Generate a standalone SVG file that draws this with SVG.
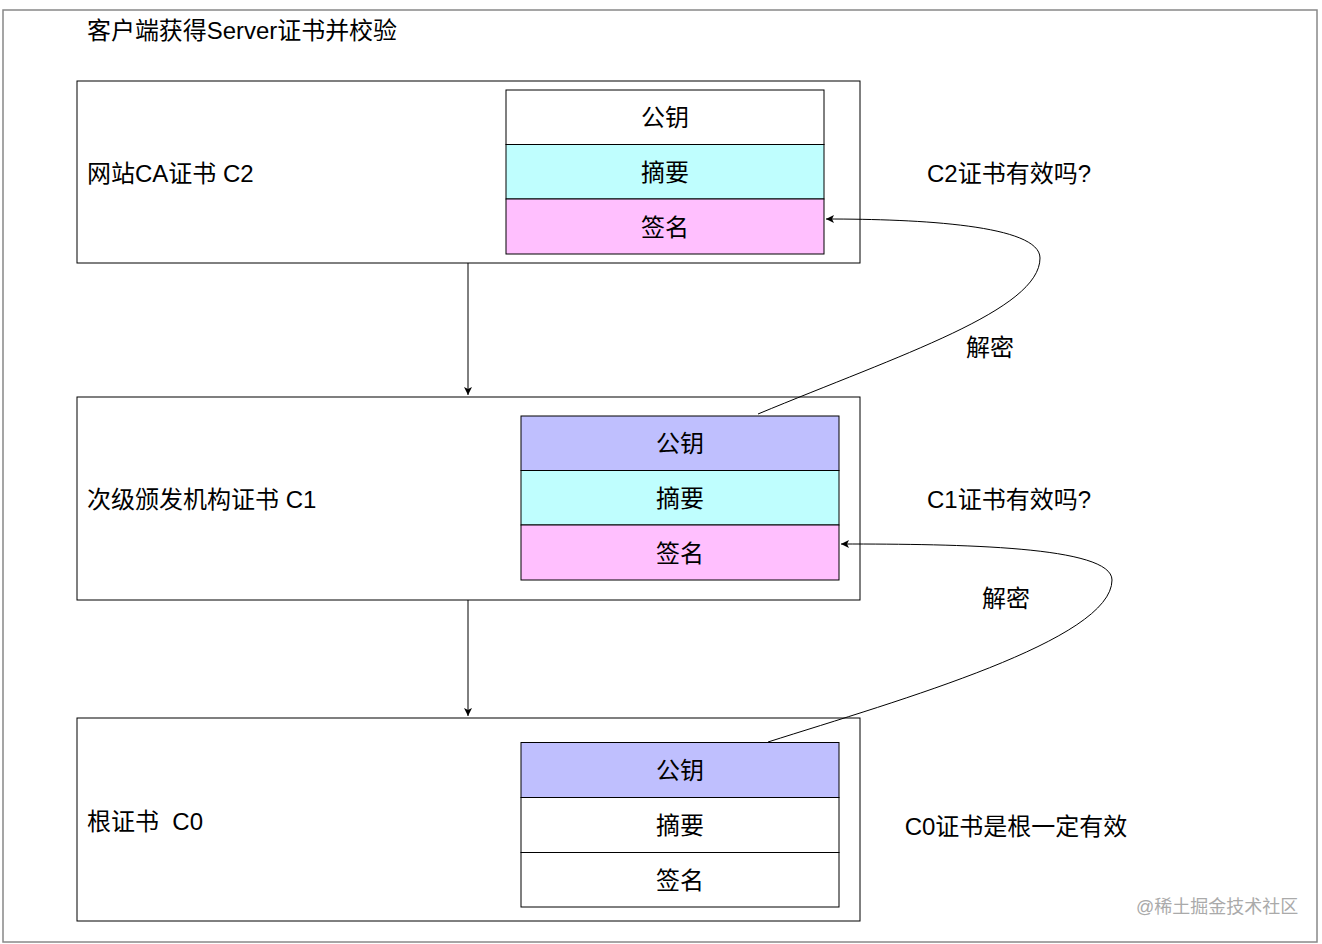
<svg xmlns="http://www.w3.org/2000/svg" width="1322" height="944" viewBox="0 0 1322 944">
<defs>
<style>
text{font-family:"Liberation Sans","Noto Sans CJK SC",sans-serif;fill:#000;font-size:24px;dominant-baseline:central}
.c{text-anchor:middle}
.box{fill:#fff;stroke:#000;stroke-width:1}
.cell{stroke:#000;stroke-width:1}
.w{fill:#fff}.cy{fill:#bffefe}.pk{fill:#ffbffe}.lv{fill:#bfbffe}
.edge{fill:none;stroke:#000;stroke-width:1}
</style>
<marker id="ah" viewBox="0 0 10 10" refX="10" refY="5" markerWidth="8" markerHeight="8" markerUnits="userSpaceOnUse" orient="auto">
<path d="M0,0 L10,5 L0,10 L2.5,5 Z" fill="#000"/>
</marker>
</defs>
<rect x="0" y="0" width="1322" height="944" fill="#fff"/>
<rect x="3" y="10" width="1314" height="932" fill="none" stroke="#888" stroke-width="1.5"/>
<text x="87" y="30" textLength="310" lengthAdjust="spacingAndGlyphs">客户端获得Server证书并校验</text>

<g id="c2">
<rect class="box" x="77" y="81" width="783" height="182"/>
<text x="87" y="173">网站CA证书 C2</text>
<rect class="cell w" x="506" y="90" width="318" height="54.5"/>
<rect class="cell cy" x="506" y="144.5" width="318" height="54.5"/>
<rect class="cell pk" x="506" y="199" width="318" height="55"/>
<text class="c" x="665" y="117">公钥</text>
<text class="c" x="665" y="172">摘要</text>
<text class="c" x="665" y="227">签名</text>
</g>

<g id="c1">
<rect class="box" x="77" y="397" width="783" height="203"/>
<text x="87" y="499">次级颁发机构证书 C1</text>
<rect class="cell lv" x="521" y="416" width="318" height="54.5"/>
<rect class="cell cy" x="521" y="470.5" width="318" height="54.5"/>
<rect class="cell pk" x="521" y="525" width="318" height="55"/>
<text class="c" x="680" y="443">公钥</text>
<text class="c" x="680" y="498">摘要</text>
<text class="c" x="680" y="553">签名</text>
</g>

<g id="c0">
<rect class="box" x="77" y="718" width="783" height="203"/>
<text x="87" y="821" xml:space="preserve">根证书  C0</text>
<rect class="cell lv" x="521" y="742.5" width="318" height="55"/>
<rect class="cell w" x="521" y="797.5" width="318" height="55"/>
<rect class="cell w" x="521" y="852.5" width="318" height="54.5"/>
<text class="c" x="680" y="770">公钥</text>
<text class="c" x="680" y="825">摘要</text>
<text class="c" x="680" y="880">签名</text>
</g>

<g id="labels">
<text class="c" x="1009" y="173">C2证书有效吗?</text>
<text class="c" x="1009" y="499">C1证书有效吗?</text>
<text class="c" x="1016" y="826">C0证书是根一定有效</text>
<text class="c" x="990" y="347">解密</text>
<text class="c" x="1006" y="598">解密</text>
</g>

<g id="connectors">
<path class="edge" d="M468,263 L468,395" marker-end="url(#ah)"/>
<path class="edge" d="M468,600 L468,716" marker-end="url(#ah)"/>
<path class="edge" d="M758,414 C900,355 1040,310 1040,258 C1040,225 920,219 826,219" marker-end="url(#ah)"/>
<path class="edge" d="M768,742 C900,700 1112,640 1112,580 C1112,546 960,544 841,544" marker-end="url(#ah)"/>
</g>

<text x="1136" y="907" style="font-size:18px;fill:#aaa">@稀土掘金技术社区</text>
</svg>
